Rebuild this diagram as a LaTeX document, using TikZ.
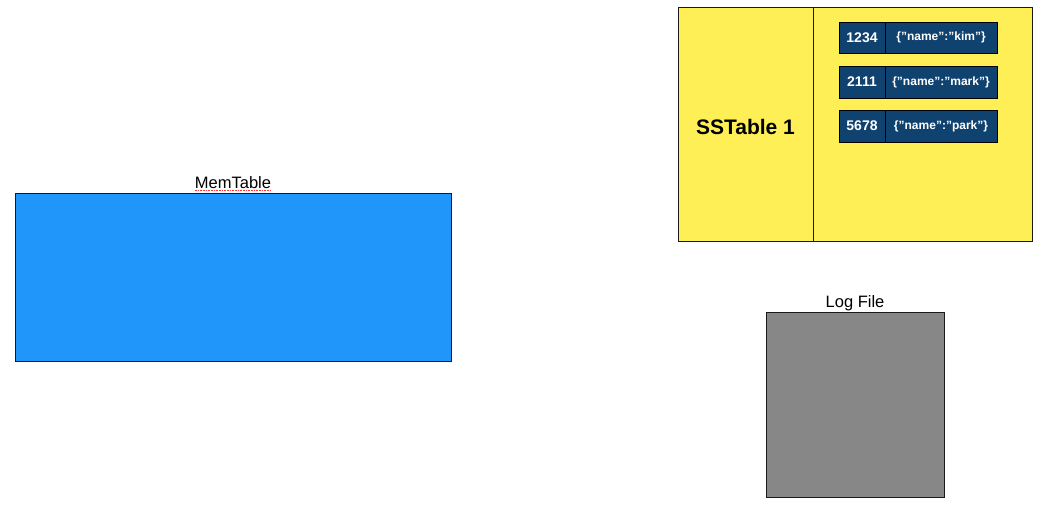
\documentclass[tikz,border=0pt]{standalone}
\usepackage{fontspec}
\setmainfont{Liberation Sans}
\definecolor{memblue}{HTML}{2196FA}
\definecolor{loggray}{HTML}{878787}
\definecolor{ssyellow}{HTML}{FFEF57}
\definecolor{navy}{HTML}{10426F}
\definecolor{edge}{HTML}{1A1A1A}
\newcommand{\dq}{\symbol{34}}
\begin{document}
\begin{tikzpicture}[x=1pt,y=-1pt,
  box/.style={draw=edge,line width=0.8pt},
  cell/.style={draw=black,line width=0.8pt,fill=navy,text=white,font=\bfseries},
  lbl/.style={font=\fontsize{16.5}{18}\selectfont,inner sep=0pt}]
\useasboundingbox (0,0) rectangle (1051,504);
% MemTable
\draw[box,fill=memblue] (15,193) rectangle (451,361);
\node[lbl,anchor=base] (memlbl) at (233,188) {MemTable};
\draw[red!80,densely dotted,line width=0.6pt] ([yshift=-1.8pt]memlbl.south west) -- ([yshift=-1.8pt]memlbl.south east);
% Log File
\draw[box,fill=loggray] (766,312) rectangle (944,497);
\node[lbl,anchor=base] (loglbl) at (855,307) {Log File};
% SSTable
\draw[box,fill=ssyellow] (678,7) rectangle (1032,241);
\draw[box] (813,7) -- (813,241);
\node[font=\bfseries\fontsize{21}{24}\selectfont] (sslbl) at (745.5,127) {SSTable 1};
\foreach \i/\k/\v/\ya/\yb in {1/1234/kim/22/53,2/2111/mark/66/98,3/5678/park/110/142}{
  \draw[cell] (839,\ya) rectangle (885,\yb);
  \draw[cell] (885,\ya) rectangle (997,\yb);
  \node[text=white,font=\bfseries\fontsize{14}{16}\selectfont] (k\i) at (862,{(\ya+\yb)/2}) {\k};
  \node[text=white,font=\bfseries\fontsize{12}{14}\selectfont] (v\i) at (941,{(\ya+\yb)/2}) {\{\dq name\dq:\dq\v\dq\}};
}
\end{tikzpicture}
\end{document}
